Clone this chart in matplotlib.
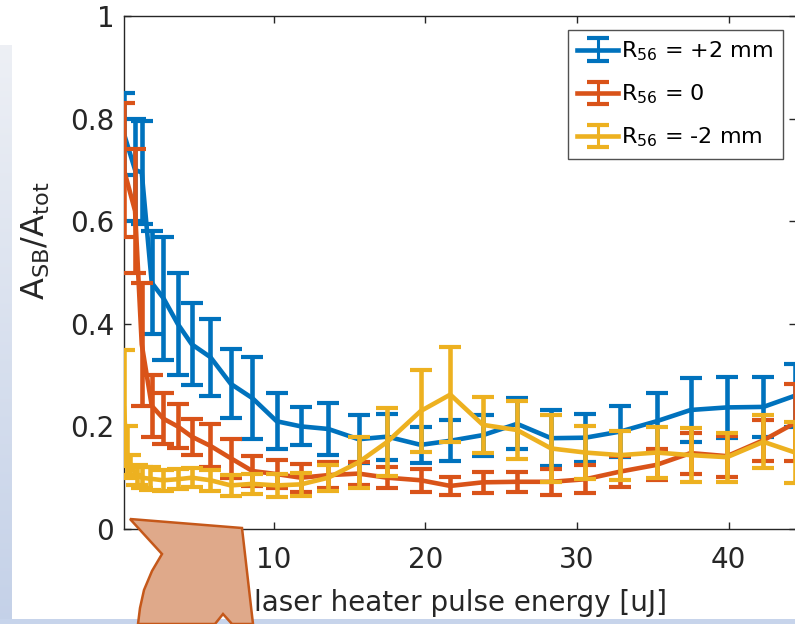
import numpy as np
import matplotlib.pyplot as plt
from matplotlib.patches import Polygon, Rectangle

# ====== data ======
energy_a = [0.13, 0.86, 1.3, 1.96, 2.73, 3.67, 4.6, 5.83, 7.17, 8.6, 10.2, 11.8, 13.6, 15.6,
            17.5, 19.7, 21.65, 23.8, 26.05, 28.3, 30.56, 32.87, 35.25, 37.5, 39.9, 42.3, 44.4]
energy_b = [0.13, 0.3, 0.55, 0.96, 1.3, 1.85, 2.73, 3.67, 4.6, 5.83, 7.17, 8.6, 10.2, 11.8, 13.6,
            15.6, 17.5, 19.7, 21.65, 23.8, 26.05, 28.3, 30.56, 32.87, 35.25, 37.5, 39.9, 42.3, 44.4]

ratio_pos = [0.77, 0.70, 0.695, 0.48, 0.45, 0.40, 0.36, 0.335, 0.283, 0.255, 0.21, 0.20, 0.195, 0.175,
             0.18, 0.164, 0.172, 0.183, 0.205, 0.177, 0.178, 0.19, 0.21, 0.232, 0.237, 0.238, 0.26]
err_pos = [0.08, 0.10, 0.10, 0.10, 0.12, 0.10, 0.08, 0.075, 0.067, 0.08, 0.055, 0.037, 0.05, 0.047,
           0.045, 0.035, 0.04, 0.04, 0.05, 0.055, 0.047, 0.05, 0.056, 0.063, 0.06, 0.058, 0.062]

ratio_zero = [0.70, 0.62, 0.36, 0.24, 0.215, 0.20, 0.18, 0.162, 0.138, 0.113, 0.107, 0.10, 0.105, 0.108,
              0.10, 0.095, 0.084, 0.091, 0.092, 0.092, 0.097, 0.112, 0.125, 0.148, 0.142, 0.173, 0.207]
err_zero = [0.13, 0.12, 0.12, 0.06, 0.05, 0.043, 0.035, 0.042, 0.038, 0.03, 0.027, 0.027, 0.025, 0.022,
            0.02, 0.022, 0.017, 0.021, 0.02, 0.025, 0.027, 0.03, 0.03, 0.04, 0.04, 0.04, 0.075]

ratio_neg = [0.235, 0.15, 0.125, 0.105, 0.10, 0.098, 0.095, 0.097, 0.10, 0.095, 0.085, 0.088, 0.085, 0.087,
             0.10, 0.13, 0.17, 0.23, 0.262, 0.203, 0.193, 0.157, 0.149, 0.144, 0.149, 0.144, 0.140, 0.170, 0.149]
err_neg = [0.113, 0.05, 0.02, 0.02, 0.02, 0.022, 0.02, 0.02, 0.018, 0.02, 0.02, 0.02, 0.022, 0.022,
           0.025, 0.05, 0.066, 0.08, 0.092, 0.055, 0.057, 0.065, 0.052, 0.048, 0.05, 0.053, 0.048, 0.052, 0.06]

labels = [r'$\mathregular{R_{56}}$ = +2 mm', r'$\mathregular{R_{56}}$ = 0', r'$\mathregular{R_{56}}$ = -2 mm']
colors = ['#0072BD', '#D95319', '#EDB120']
x_ticks = [10, 20, 30, 40]
y_ticks = [0, 0.2, 0.4, 0.6, 0.8, 1]
y_ticklabels = ['0', '0.2', '0.4', '0.6', '0.8', '1']

plt.rcParams['font.family'] = ['DejaVu Sans']
W, H = 795, 624
fig = plt.figure(figsize=(W / 100, H / 100), dpi=100)

# ====== slide background (blue strips) ======
bg = fig.add_axes([0, 0, 1, 1], zorder=-5)
grad = np.linspace(0, 1, 200)[:, None]
top_c = np.array([0.93, 0.94, 0.96])
bot_c = np.array([0.77, 0.82, 0.91])
strip = top_c[None, None, :] * (1 - grad[:, :, None]) + bot_c[None, None, :] * grad[:, :, None]
bg.imshow(strip, extent=[0, 12, H, 45], aspect='auto', interpolation='bilinear')
bg.add_patch(Rectangle((0, 619), W, 5, color=(0.78, 0.83, 0.92), lw=0))
bg.set_xlim(0, W)
bg.set_ylim(H, 0)
bg.axis('off')

# ====== main plot ======
ax = fig.add_axes([124 / W, (H - 529) / H, 672 / W, 513 / H])
series = [(energy_a, ratio_pos, err_pos), (energy_a, ratio_zero, err_zero), (energy_b, ratio_neg, err_neg)]
handles = []
for i, (xx, yy, ee) in enumerate(series):
    h = ax.errorbar(xx, yy, yerr=ee, color=colors[i], lw=3.3, elinewidth=3.3,
                    capsize=8, capthick=3, zorder=3 + i)
    handles.append(h)

ax.set_xlim(0.13, 44.45)
ax.set_ylim(0, 1)
ax.set_xticks(x_ticks)
ax.set_xticklabels([str(t) for t in x_ticks])
ax.set_yticks(y_ticks)
ax.set_yticklabels(y_ticklabels)
ax.tick_params(direction='in', length=5, width=1, colors='#262626', labelsize=20,
               top=True, right=True)
ax.tick_params(axis='x', pad=12)
ax.tick_params(axis='y', pad=7)
for s in ax.spines.values():
    s.set_color('#262626')
    s.set_linewidth(1)

ax.set_xlabel('laser heater pulse energy [uJ]', fontsize=20, color='#262626')
ax.xaxis.label.set_va('baseline')
ax.xaxis.set_label_coords(0.5, -0.160)
ax.set_ylabel(r'$\mathregular{A_{SB}/A_{tot}}$', fontsize=23, color='#262626')
ax.yaxis.label.set_va('center')
ax.yaxis.set_label_coords(-0.131, 0.561)

leg = ax.legend(handles, labels, loc='upper right', bbox_to_anchor=(783 / W, 1 - 30 / H),
                bbox_transform=fig.transFigure, fontsize=16, frameon=True, fancybox=False,
                handlelength=1.85, handletextpad=0.15, borderpad=0.42, labelspacing=0.88,
                borderaxespad=0)
leg.get_frame().set_edgecolor('#262626')
leg.get_frame().set_linewidth(1)
for lh in leg.legend_handles:
    lh.set_linewidth(2.2)

# ====== orange arrow overlay ======
fg = fig.add_axes([0, 0, 1, 1], zorder=10)
fg.set_xlim(0, W)
fg.set_ylim(H, 0)
fg.axis('off')
arrow = [(130, 519), (242, 528), (253, 624), (232, 624), (223, 614), (215, 624),
         (138, 624), (140, 608), (144, 590), (152, 571), (162, 554)]
fg.add_patch(Polygon(arrow, closed=True, facecolor='#dfa98a', edgecolor='#c5581a', lw=1.8))

plt.savefig('out.png', dpi=100)
